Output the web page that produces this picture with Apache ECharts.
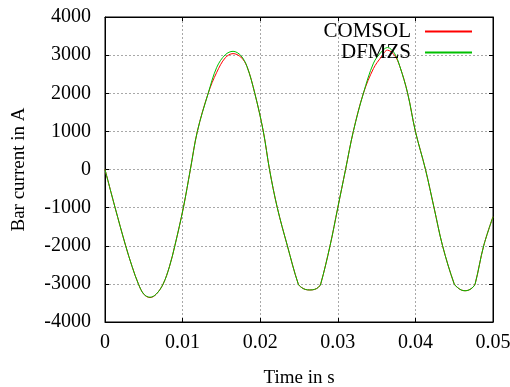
<!DOCTYPE html>
<html>
<head>
<meta charset="utf-8">
<script src="https://cdn.jsdelivr.net/npm/echarts@6/dist/echarts.min.js"></script>
<style>
  html, body { margin: 0; padding: 0; background: #fff; }
  #chart { width: 510px; height: 387px; }
</style>
</head>
<body>
<div id="chart"></div>
<script>
// time in s
const time = [
  0.0000, 0.0013, 0.00266, 0.0035, 0.0043, 0.0050, 0.0058, 0.0066, 0.0075, 0.0083,
  0.0090, 0.0101, 0.0110, 0.0119, 0.0133, 0.0144, 0.0155, 0.0165, 0.0175, 0.0183,
  0.0193, 0.0204, 0.0212, 0.0222, 0.0235, 0.0249, 0.0253, 0.0258, 0.0264, 0.0270,
  0.0275, 0.0278, 0.0290, 0.0300, 0.0310, 0.0320, 0.0333, 0.0346, 0.0356, 0.0364,
  0.0373, 0.0380, 0.0390, 0.0400, 0.0413, 0.0424, 0.0435, 0.0450, 0.0454, 0.0459,
  0.0464, 0.0469, 0.0474, 0.0477, 0.0488, 0.0500
];
// bar current in A
const comsol = [
  0, -1000, -2000, -2550, -3000, -3270, -3360, -3270, -3000, -2550,
  -2000, -1000, 0, 1000, 2000, 2550, 2930, 3040, 2950, 2700,
  2000, 1000, 0, -1000, -2000, -3000, -3090, -3145, -3160, -3145,
  -3090, -3000, -2000, -1000, 0, 1000, 2000, 2650, 2950, 3130,
  3000, 2700, 2000, 1000, 0, -1000, -2000, -3000, -3090, -3160,
  -3180, -3160, -3090, -3000, -2000, -1240
];
const dfmzs = [
  0, -1000, -2000, -2550, -3000, -3270, -3350, -3270, -3000, -2550,
  -2000, -1000, 0, 1000, 2000, 2680, 3010, 3100, 2990, 2700,
  2000, 1000, 0, -1000, -2000, -3000, -3090, -3145, -3160, -3145,
  -3090, -3000, -2000, -1000, 0, 1000, 2000, 2790, 3080, 3200,
  3050, 2700, 2000, 1000, 0, -1000, -2000, -3000, -3090, -3160,
  -3180, -3160, -3090, -3000, -2000, -1240
];
const seriesNames = ['COMSOL', 'DFMZS'];
const xTicks = [0, 0.01, 0.02, 0.03, 0.04, 0.05];
const yTicks = [-4000, -3000, -2000, -1000, 0, 1000, 2000, 3000, 4000];

const font = 'Liberation Serif';
const chart = echarts.init(document.getElementById('chart'));

const pairs = vals => time.map((t, i) => [t, vals[i]]);

const gridLine = { show: true, lineStyle: { color: '#a8a8a8', width: 1, type: [2, 2] } };
const axisLine = { show: true, onZero: false, lineStyle: { color: '#000', width: 1 } };
const tick = { show: true, inside: true, length: 4, lineStyle: { color: '#000' } };

const option = {
  backgroundColor: '#fff',
  animation: false,
  grid: {
    left: 105, right: 17, top: 17, bottom: 65,
    outerBoundsMode: 'none', containLabel: false,
    show: true, borderColor: '#000', borderWidth: 1
  },
  legend: {
    orient: 'vertical',
    right: 33,
    top: 16,
    align: 'right',
    itemGap: 0,
    itemWidth: 47,
    itemHeight: 2,
    icon: 'rect',
    data: seriesNames,
    textStyle: { fontFamily: font, fontSize: 21, color: '#000', padding: [0, 9, 0, 0] }
  },
  xAxis: [{
    type: 'value',
    min: xTicks[0],
    max: xTicks[xTicks.length - 1],
    interval: 0.01,
    name: 'Time in s',
    nameLocation: 'middle',
    nameGap: 47,
    nameTextStyle: { fontFamily: font, fontSize: 19, color: '#000' },
    axisLine: axisLine,
    axisTick: tick,
    splitLine: gridLine,
    axisLabel: { fontFamily: font, fontSize: 20, color: '#000', margin: 11, formatter: v => String(v) }
  }, {
    type: 'value',
    position: 'top',
    min: xTicks[0],
    max: xTicks[xTicks.length - 1],
    interval: 0.01,
    axisLine: axisLine,
    axisTick: tick,
    splitLine: { show: false },
    axisLabel: { show: false }
  }],
  yAxis: [{
    type: 'value',
    min: yTicks[0],
    max: yTicks[yTicks.length - 1],
    interval: 1000,
    name: 'Bar current in A',
    nameLocation: 'middle',
    nameGap: 76,
    nameTextStyle: { fontFamily: font, fontSize: 19, color: '#000' },
    axisLine: axisLine,
    axisTick: tick,
    splitLine: gridLine,
    axisLabel: { fontFamily: font, fontSize: 20, color: '#000', margin: 14, formatter: v => String(v) }
  }, {
    type: 'value',
    position: 'right',
    min: yTicks[0],
    max: yTicks[yTicks.length - 1],
    interval: 1000,
    axisLine: axisLine,
    axisTick: tick,
    splitLine: { show: false },
    axisLabel: { show: false }
  }],
  series: [{
    name: seriesNames[0],
    type: 'line',
    data: pairs(comsol),
    symbol: 'none',
    smooth: 0.35,
    color: '#ff0000',
    lineStyle: { width: 1, color: '#ff0000' }
  }, {
    name: seriesNames[1],
    type: 'line',
    data: pairs(dfmzs),
    symbol: 'none',
    smooth: 0.35,
    color: '#00c000',
    lineStyle: { width: 1, color: '#00c000' }
  }]
};

chart.setOption(option);
</script>
</body>
</html>
